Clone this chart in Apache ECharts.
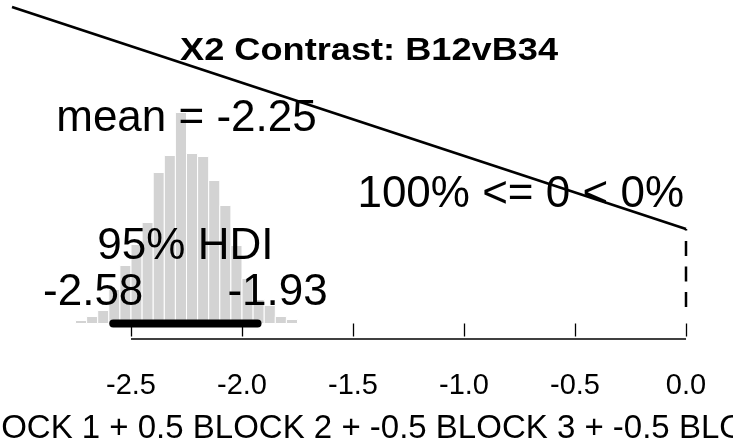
<!DOCTYPE html>
<html>
<head>
<meta charset="utf-8">
<script src="https://cdn.jsdelivr.net/npm/echarts@6/dist/echarts.min.js"></script>
<style>
html,body{margin:0;padding:0;background:#fff;}
#chart{width:733px;height:448px;}
</style>
</head>
<body>
<div id="chart"></div>
<script>
// ---- data ----
const binStart = [-2.75,-2.70,-2.65,-2.60,-2.55,-2.50,-2.45,-2.40,-2.35,-2.30,
                  -2.25,-2.20,-2.15,-2.10,-2.05,-2.00,-1.95,-1.90,-1.85,-1.80];
const binHeight = [3,7,13,34,58,79,101,151,168,211,
                   170,167,143,118,78,45,24,18,7,4];
const binWidth = 0.05;
const tickValues = [-2.5,-2.0,-1.5,-1.0,-0.5,0.0];
const tickLabels = ['-2.5','-2.0','-1.5','-1.0','-0.5','0.0'];
const meanVal = -2.25;
const hdiLow = -2.58, hdiHigh = -1.93;
const compVal = 0.0;
const pctLE = 100, pctGT = 0;
const titleText = 'X2 Contrast: B12vB34';
const xLabelText = '0.5 BLOCK 1 + 0.5 BLOCK 2 + -0.5 BLOCK 3 + -0.5 BLOCK 4';
// stray diagonal line (data coords)
const diagX = [-3.036, 0.0];
const diagY = [316.5, 94.5];
const cvTop = 94.5, cvBottom = 16.5;

// ---- layout ----
const FONT = '"Liberation Sans", Arial, Helvetica, sans-serif';
const BIG = 44, MID = 29, XLAB = 33, TITLE = 32;
const axisY = -15.5;

const chart = echarts.init(document.getElementById('chart'), null, {renderer:'canvas'});

const histData = binStart.map((s,i)=>[s, s+binWidth, binHeight[i]]);

const option = {
  animation:false,
  backgroundColor:'#fff',
  grid:{left:0,right:0,top:0,bottom:109},
  xAxis:{
    type:'value', min:-3.09009, max:0.21171,
    axisLine:{show:false},
    splitLine:{show:false},
    axisTick:{show:true, customValues:tickValues, length:13, lineStyle:{color:'#000',width:1.3}},
    axisLabel:{show:true, customValues:tickValues, margin:32,
      formatter:v=>{const i=tickValues.findIndex(t=>Math.abs(t-v)<1e-9);return i>=0?tickLabels[i]:'';},
      fontSize:MID, color:'#000', fontFamily:FONT}
  },
  yAxis:{type:'value', min:axisY, max:323.5, show:false},
  series:[
    {type:'custom', data:histData, clip:false,
     renderItem:(params,api)=>{
       const p0=api.coord([api.value(0),api.value(2)]);
       const p1=api.coord([api.value(1),0]);
       return {type:'rect',shape:{x:p0[0],y:p0[1],width:p1[0]-p0[0],height:p1[1]-p0[1]},
               style:{fill:'#d3d3d3',stroke:'#ffffff',lineWidth:1}};
     }},
    {type:'line', data:[[hdiLow,0],[hdiHigh,0]], symbol:'none', clip:false,
     lineStyle:{color:'#000',width:8,cap:'round'}},
    {type:'line', data:[[tickValues[0],axisY],[tickValues[tickValues.length-1],axisY]], symbol:'none', clip:false,
     lineStyle:{color:'#000',width:1.3}},
    {type:'line', data:[[compVal,cvBottom],[compVal,cvTop]], symbol:'none', clip:false,
     lineStyle:{color:'#000',width:2.5,type:[15,10.5]}},
    {type:'line', data:[[diagX[0],diagY[0]],[diagX[1],diagY[1]]], symbol:'none', clip:false,
     lineStyle:{color:'#000',width:2.7}}
  ]
};
chart.setOption(option);

const ctx = document.createElement('canvas').getContext('2d');
function tw(t,size,bold){ctx.font=(bold?'bold ':'')+size+'px '+FONT;return ctx.measureText(t).width;}
const px = (x,y)=>chart.convertToPixel({gridIndex:0},[x,y]);

const lowTxt = hdiLow.toFixed(2), highTxt = hdiHigh.toFixed(2);
const wLow = tw(lowTxt,BIG), wHigh = tw(highTxt,BIG);
const pLow = px(hdiLow,0), pHigh = px(hdiHigh,0);
const pMean = px(meanVal,0), pHdiMid = px((hdiLow+hdiHigh)/2,0), pCv = px(compVal,0);
const titleScale = 378 / tw(titleText,TITLE,true);

function txt(t,x,y,align,size,bold,sx){
  return {type:'text', x:x, y:y, z:100, scaleX:sx||1,
    style:{text:t, x:0, y:0, fill:'#000', font:(bold?'bold ':'')+size+'px '+FONT,
      align:align, verticalAlign:'middle'}};
}
chart.setOption({graphic:[
  txt(titleText, 369, 51, 'center', TITLE, true, titleScale),
  txt('mean = '+meanVal.toFixed(2), pMean[0], 119, 'center', BIG),
  txt(pctLE+'% <= '+compVal+' < '+pctGT+'%', pCv[0]-2, 195, 'right', BIG),
  txt('95% HDI', pHdiMid[0], 247, 'center', BIG),
  txt(lowTxt, pLow[0]-0.7*wLow, 293, 'left', BIG),
  txt(highTxt, pHigh[0]-0.3*wHigh, 293, 'left', BIG),
  txt(xLabelText, 362, 429, 'center', XLAB)
]});
</script>
</body>
</html>
